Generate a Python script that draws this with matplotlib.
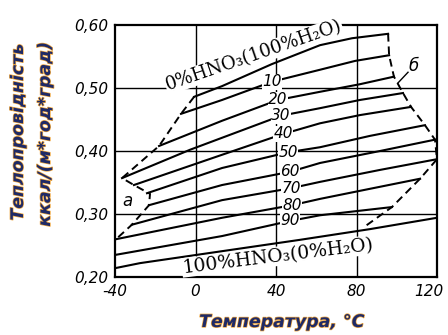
import matplotlib
matplotlib.use("Agg")
import matplotlib.pyplot as plt
import matplotlib.patheffects as pe
import matplotlib.transforms as mtransforms
import numpy as np

# thermal conductivity of HNO3 - H2O solutions
conc = [0, 10, 20, 30, 40, 50, 60, 70, 80, 90, 100]
line_t = [
    [-0.7, 13.2, 38.0, 61.9, 77.8, 95.7],
    [-7.2, 13.2, 38.0, 61.9, 79.3, 96.2],
    [-18.1, 13.2, 41.0, 61.9, 81.7, 98.6],
    [-36.5, -2.7, 13.2, 42.5, 61.9, 81.7, 103.1],
    [-30.6, 13.2, 43.5, 61.9, 81.7, 107.1],
    [-24.1, 13.2, 46.0, 61.9, 86.7, 114.0],
    [-23.1, 13.2, 47.0, 61.9, 91.7, 119.0],
    [-31.6, 13.2, 47.5, 61.9, 91.7, 120.0],
    [-39.5, 13.2, 48.0, 61.9, 86.7, 111.6],
    [-40.0, 13.2, 47.0, 61.9, 97.6],
    [-40.0, -27.6, 51.9, 86.7, 120.0],
]
line_k = [
    [0.486, 0.503, 0.538, 0.568, 0.579, 0.586],
    [0.459, 0.481, 0.510, 0.529, 0.543, 0.552],
    [0.408, 0.448, 0.481, 0.494, 0.506, 0.518],
    [0.357, 0.402, 0.421, 0.456, 0.468, 0.481, 0.492],
    [0.346, 0.394, 0.427, 0.444, 0.457, 0.470],
    [0.333, 0.373, 0.398, 0.406, 0.424, 0.441],
    [0.314, 0.346, 0.367, 0.381, 0.400, 0.418],
    [0.283, 0.322, 0.341, 0.351, 0.370, 0.387],
    [0.260, 0.294, 0.314, 0.324, 0.340, 0.356],
    [0.235, 0.265, 0.289, 0.298, 0.311],
    [0.214, 0.222, 0.259, 0.276, 0.294],
]

# dashed limits of the liquid region
left_t = [-0.7, -7.2, -18.1, -36.5, -30.6, -22.6, -23.1, -31.6, -39.5]
left_k = [0.486, 0.459, 0.408, 0.357, 0.346, 0.332, 0.314, 0.283, 0.260]
right_t = [95.7, 96.2, 98.6, 103.1, 107.1, 114.0, 119.0, 120.0, 111.6, 97.6, 83.2]
right_k = [0.586, 0.552, 0.518, 0.492, 0.470, 0.441, 0.418, 0.387, 0.356, 0.311, 0.278]

# where the inline labels sit (temperature)
label_t = [None, 38, 41, 42.5, 43.5, 46, 47, 47.5, 48, 47, None]

xticks = [-40, 0, 40, 80, 120]
yticks = [0.20, 0.30, 0.40, 0.50, 0.60]

fig = plt.figure(figsize=(4.48, 3.35), dpi=100)
ax = fig.add_axes([115 / 448, 1 - 277 / 335, 322 / 448, 252 / 335])
ax.set_xlim(-40, 120)
ax.set_ylim(0.2, 0.6)

for s in ax.spines.values():
    s.set_linewidth(1.6)

for x in [0, 40, 80]:
    ax.axvline(x, color="black", lw=1.0, zorder=1)
for y in [0.3, 0.4, 0.5]:
    ax.axhline(y, color="black", lw=1.0, zorder=1)

for c, t, k in zip(conc, line_t, line_k):
    ax.plot(t, k, color="black", lw=1.5, zorder=2)

ax.plot(left_t, left_k, color="black", lw=1.4, ls=(0, (4, 2.5)), zorder=2)
ax.plot(right_t, right_k, color="black", lw=1.4, ls=(0, (4, 2.5)), zorder=2)

for c, t, k, lt in zip(conc, line_t, line_k, label_t):
    if lt is None:
        continue
    ax.text(lt, np.interp(lt, t, k), str(c), ha="center", va="center",
            fontsize=11, style="italic", zorder=4,
            bbox=dict(facecolor="white", edgecolor="none", pad=0.3))

ax.text(29, 0.551, "0%HNO₃(100%H₂O)", rotation=19, rotation_mode="anchor",
        ha="center", va="center", family="DejaVu Serif", fontsize=13, zorder=4,
        bbox=dict(facecolor="white", edgecolor="none", pad=0.5))
ax.text(41, 0.233, "100%HNO₃(0%H₂O)", rotation=7, rotation_mode="anchor",
        ha="center", va="center", family="DejaVu Serif", fontsize=13.5, zorder=4,
        bbox=dict(facecolor="white", edgecolor="none", pad=0.5))

ax.text(-34, 0.321, "a", ha="center", va="center", fontsize=12, style="italic")
ax.plot([100.6, 105.6], [0.508, 0.525], color="black", lw=1.0)
ax.text(108.5, 0.535, "б", ha="center", va="center", fontsize=12, style="italic")

ax.set_xticks(xticks)
ax.set_xticklabels([str(v) for v in xticks])
ax.set_yticks(yticks)
ax.set_yticklabels([f"{v:.2f}".replace(".", ",") for v in yticks])
ax.tick_params(length=0, pad=5, labelsize=11)
for lab in ax.get_xticklabels() + ax.get_yticklabels():
    lab.set_style("italic")
# last x label sits a bit inside so it is not cut at the figure edge
last = ax.get_xticklabels()[-1]
last.set_transform(last.get_transform() +
                   mtransforms.ScaledTranslation(-6 / 72, 0, fig.dpi_scale_trans))

glow = [pe.withStroke(linewidth=1.0, foreground="#f0a840")]
fig.text(18 / 448, 1 - 132 / 335, "Теплопровідність", rotation=90, ha="center", va="center",
         fontsize=12.5, weight="bold", style="italic", color="#1f2a66", path_effects=glow)
fig.text(45 / 448, 1 - 134 / 335, "ккал/(м*год*град)", rotation=90, ha="center", va="center",
         fontsize=12.5, weight="bold", style="italic", color="#1f2a66", path_effects=glow)
fig.text(282 / 448, 1 - 322 / 335, "Температура, °С", ha="center", va="center",
         fontsize=12.5, weight="bold", style="italic", color="#1f2a66", path_effects=glow)

fig.savefig("out.png", dpi=100)
